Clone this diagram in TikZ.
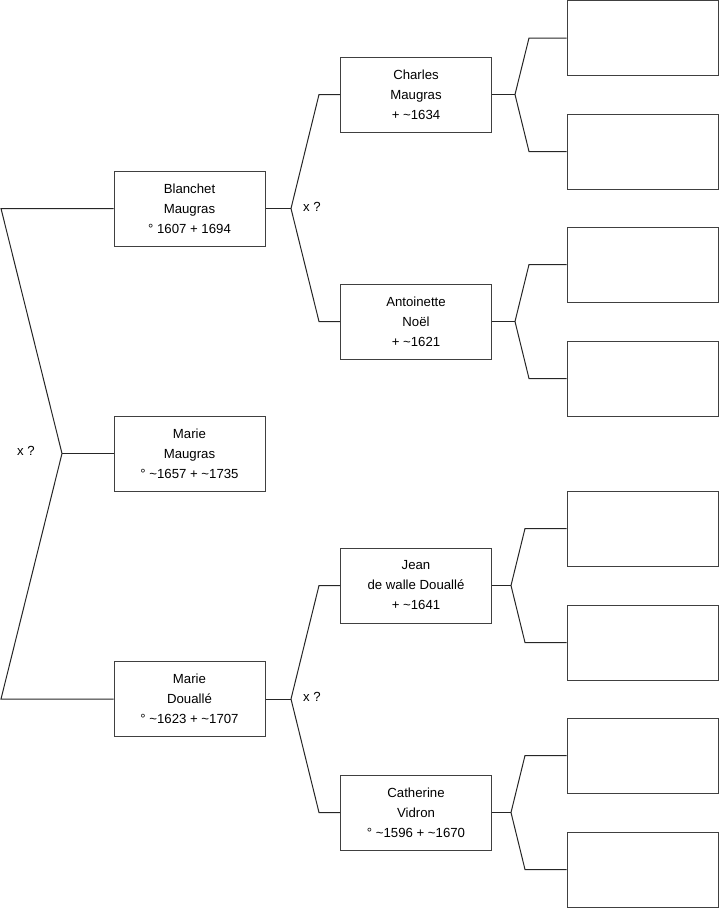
\documentclass[tikz,border=0pt]{standalone}
\usepackage{fontspec}
\setmainfont{Liberation Sans}
\usetikzlibrary{positioning}

\tikzset{
  person/.style={draw=black!75,line width=1pt,minimum width=151pt,minimum height=75pt,
    align=center,inner sep=0pt,font=\fontsize{13.2pt}{20pt}\selectfont},
  link/.style={draw=black!85,line width=1pt},
  xmark/.style={font=\fontsize{13.2pt}{15pt}\selectfont}
}

\begin{document}
\begin{tikzpicture}[x=1pt,y=-1pt]
\useasboundingbox (0,0) rectangle (719,908);

%---------------------------------
% GENERACIÓN 1
%---------------------------------
\node[person] (bla) at (189.5,208.5) {Blanchet\\Maugras\\° 1607 + 1694};
\node[person] (mar) at (189.5,453.5) {Marie\\Maugras\\° \textasciitilde1657 + \textasciitilde1735};
\node[person] (dou) at (189.5,699) {Marie\\Douallé\\° \textasciitilde1623 + \textasciitilde1707};

%---------------------------------
% GENERACIÓN 2
%---------------------------------
\node[person] (cha) at (416,94.5) {Charles\\Maugras\\+ \textasciitilde1634};
\node[person] (ant) at (416,321.5) {Antoinette\\Noël\\+ \textasciitilde1621};
\node[person] (jea) at (416,585.5) {Jean\\de walle Douallé\\+ \textasciitilde1641};
\node[person] (cat) at (416,812.5) {Catherine\\Vidron\\° \textasciitilde1596 + \textasciitilde1670};

%---------------------------------
% GENERACIÓN 3 (vacía)
%---------------------------------
\foreach \i/\y in {1/38,2/151.5,3/264.5,4/378.5,5/528.5,6/642.5,7/755.5,8/869.5}
  \node[person] (e\i) at (642.5,\y) {};

% puntos de unión
\coordinate (ja) at (1,208.5);
\coordinate (jm) at (62,453.5);
\coordinate (jb) at (1,699);
\coordinate (jbla) at (291,208.5);
\coordinate (jdou) at (291,699);
\coordinate (jcha) at (515,94.5);
\coordinate (jant) at (515,321.5);
\coordinate (jjea) at (511,585.5);
\coordinate (jcat) at (511,812.5);

% conexiones hacia la izquierda
\draw[link] (bla.west) -- (ja) -- (jm) -- (jb) -- (dou.west);
\draw[link] (jm) -- (mar.west);
\node[xmark] (x1) at (26,451) {x ?};

% padres de Blanchet
\draw[link] (bla.east) -- (jbla);
\draw[link] (jbla) -- (319,94.5) -- (cha.west);
\draw[link] (jbla) -- (319,321.5) -- (ant.west);
\node[xmark] (x2) at (312,207) {x ?};

% padres de Marie Douallé
\draw[link] (dou.east) -- (jdou);
\draw[link] (jdou) -- (319,585.5) -- (jea.west);
\draw[link] (jdou) -- (319,812.5) -- (cat.west);
\node[xmark] (x3) at (312,697) {x ?};

% abuelos
\draw[link] (cha.east) -- (jcha);
\draw[link] (jcha) -- (529,38) -- (e1.west);
\draw[link] (jcha) -- (529,151.5) -- (e2.west);
\draw[link] (ant.east) -- (jant);
\draw[link] (jant) -- (529,264.5) -- (e3.west);
\draw[link] (jant) -- (529,378.5) -- (e4.west);
\draw[link] (jea.east) -- (jjea);
\draw[link] (jjea) -- (525,528.5) -- (e5.west);
\draw[link] (jjea) -- (525,642.5) -- (e6.west);
\draw[link] (cat.east) -- (jcat);
\draw[link] (jcat) -- (525,755.5) -- (e7.west);
\draw[link] (jcat) -- (525,869.5) -- (e8.west);

\end{tikzpicture}
\end{document}
